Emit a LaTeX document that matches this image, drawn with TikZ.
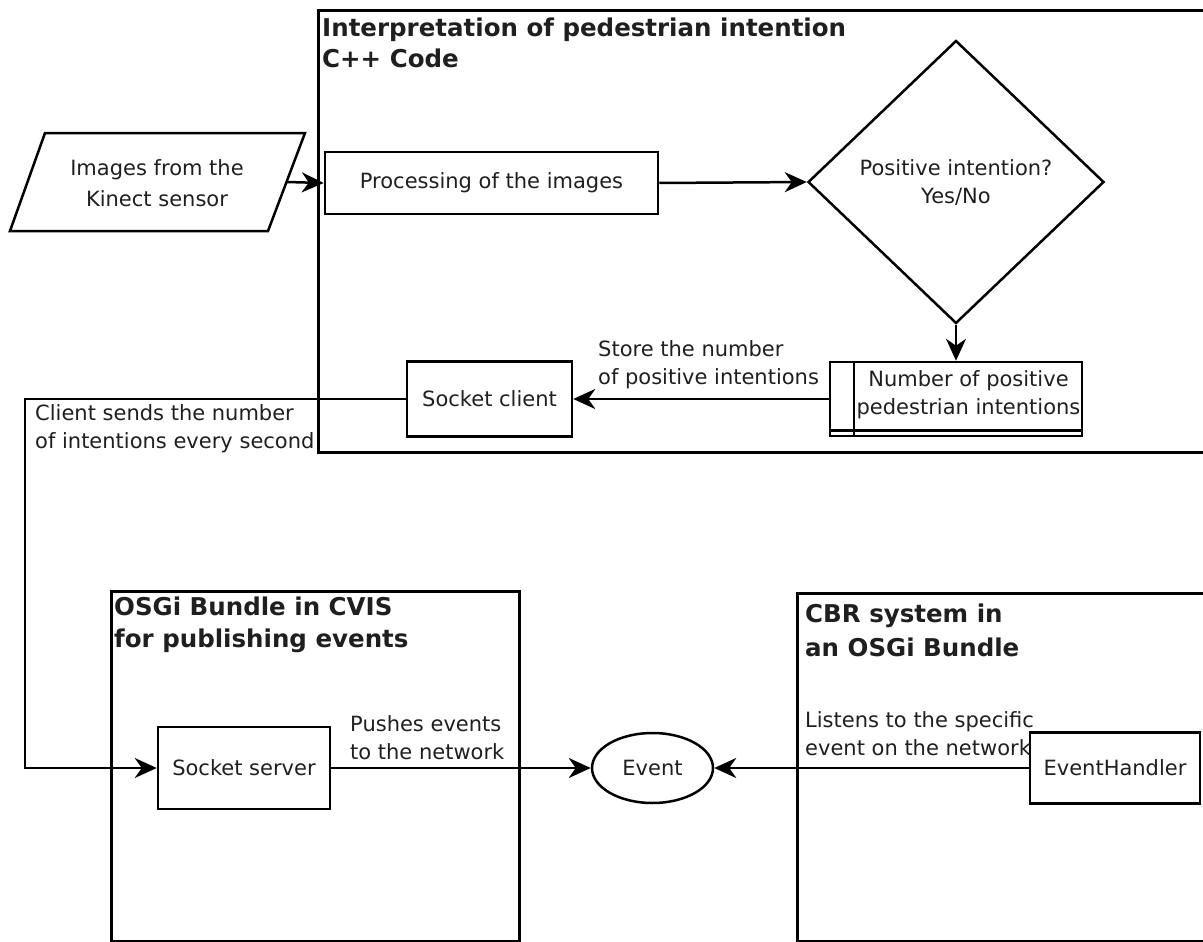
\documentclass[tikz,border=0pt]{standalone}
\usepackage{fontspec}
\setmainfont{DejaVu Sans}
\usetikzlibrary{arrows.meta,shapes.geometric,calc}
\begin{document}
\begin{tikzpicture}[x=1pt,y=-1pt,
  every node/.style={inner sep=0pt, text=black!88, font=\fontsize{21}{28}\selectfont},
  frame/.style={draw, line width=3pt, rectangle, anchor=north west},
  box/.style={draw, line width=2.5pt, rectangle},
  title/.style={anchor=base west, font=\bfseries\fontsize{24.5}{30}\selectfont},
  note/.style={anchor=west, align=left},
  link/.style={line width=2.5pt},
  flow/.style={line width=2.5pt, -{Stealth[length=22pt,width=20pt,inset=7pt]}},
]
\useasboundingbox (0,0) rectangle (1203,942);

% ---- container frames ----
\node[frame, minimum width=898, minimum height=442] (cpp) at (317,9) {};
\node[frame, minimum width=408, minimum height=350] (osgi) at (110,590) {};
\node[frame, minimum width=420, minimum height=348] (cbr) at (796,592) {};

\node[title] (cppT1) at (322,37) {Interpretation of pedestrian intention};
\node[title] (cppT2) at (322,67) {C++ Code};
\node[title] (osgiT1) at (114,615) {OSGi Bundle in CVIS};
\node[title] (osgiT2) at (114,647) {for publishing events};
\node[title] (cbrT1) at (805,622) {CBR system in};
\node[title] (cbrT2) at (805,656) {an OSGi Bundle};

% ---- input data (parallelogram) ----
\coordinate (pTL) at (45,133);
\coordinate (pTR) at (305,133);
\coordinate (pBR) at (268,231);
\coordinate (pBL) at (10,231);
\draw[link] (pTL) -- (pTR) -- (pBR) -- (pBL) -- cycle;
\coordinate (inOut) at ($(pTR)!0.5!(pBR)$);
\node[align=center, font=\fontsize{21}{31}\selectfont] (input) at (157,183) {Images from the\\Kinect sensor};

% ---- processing steps ----
\node[box, minimum width=333, minimum height=62] (proc) at (491.5,183) {Processing of the images};
\node[draw, line width=2.5pt, diamond, minimum width=296, minimum height=283, align=center]
  (dec) at (956,182) {Positive intention?\\Yes/No};

% stored data (predefined-process style box)
\node[box, minimum width=252, minimum height=74] (num) at (956,399) {};
\draw[link] ([xshift=25pt]num.north west) -- ([xshift=25pt]num.south west);
\draw[link] ([yshift=7pt]num.south west) -- ([yshift=7pt]num.south east);
\node[align=center] (numtxt) at (968.5,395) {Number of positive\\pedestrian intentions};

\node[box, minimum width=165, minimum height=75] (sclient) at (489.5,399) {Socket client};
\node[box, minimum width=172, minimum height=82] (sserver) at (244,768) {Socket server};
\node[draw, line width=2.5pt, ellipse, minimum width=121, minimum height=70] (event) at (652.5,768) {Event};
\node[box, minimum width=170, minimum height=71] (evh) at (1115,768) {EventHandler};

% ---- connectors ----
\coordinate (bend) at (25,580);
\draw[flow] (inOut) -- (proc.west);
\draw[flow] (proc.east) -- (dec.west);
\draw[flow] (dec.south) -- (num.north);
\draw[flow] (num.west) -- (sclient.east);
\draw[flow] (sclient.west) -| (bend) |- (sserver.west);
\draw[flow] (sserver.east) -- (event.west);
\draw[flow] (evh.west) -- (event.east);

% ---- connector labels ----
\node[note] (lblStore) at (598,365) {Store the number\\of positive intentions};
\node[note] (lblSend) at (35,429) {Client sends the number\\of intentions every second};
\node[note] (lblPush) at (350,737.5) {Pushes events\\to the network};
\node[note] (lblListen) at (805,734) {Listens to the specific\\event on the network};
\end{tikzpicture}
\end{document}
